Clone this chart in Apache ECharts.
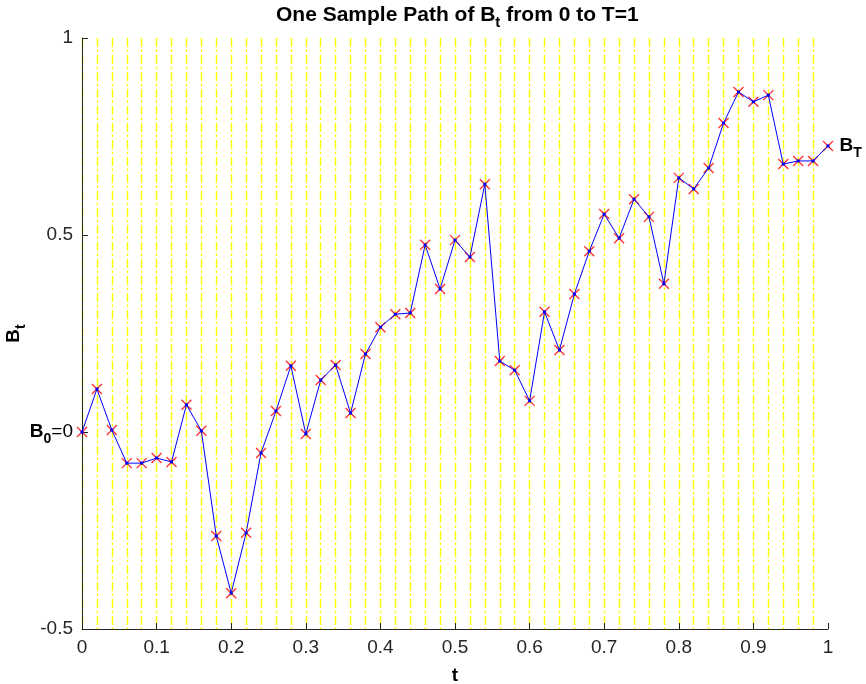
<!DOCTYPE html>
<html>
<head>
<meta charset="utf-8">
<title>One Sample Path of Bt</title>
<script src="https://cdn.jsdelivr.net/npm/echarts@6/dist/echarts.min.js"></script>
<style>
	html, body { margin: 0; padding: 0; background: #fff; }
	#chart { width: 866px; height: 684px; }
</style>
</head>
<body>
<div id="chart"></div>
<script>
// sample times t = 0, 0.02, ..., 1
const times = [0, 0.02, 0.04, 0.06, 0.08, 0.1, 0.12, 0.14, 0.16, 0.18,
	0.2, 0.22, 0.24, 0.26, 0.28, 0.3, 0.32, 0.34, 0.36, 0.38,
	0.4, 0.42, 0.44, 0.46, 0.48, 0.5, 0.52, 0.54, 0.56, 0.58,
	0.6, 0.62, 0.64, 0.66, 0.68, 0.7, 0.72, 0.74, 0.76, 0.78,
	0.8, 0.82, 0.84, 0.86, 0.88, 0.9, 0.92, 0.94, 0.96, 0.98, 1];
// B_t
const path = [0, 0.109, 0.005, -0.079, -0.079, -0.066, -0.076, 0.069, 0.003, -0.264,
	-0.409, -0.256, -0.053, 0.053, 0.168, -0.005, 0.132, 0.170, 0.048, 0.198,
	0.266, 0.299, 0.302, 0.475, 0.363, 0.487, 0.444, 0.629, 0.180, 0.157,
	0.079, 0.305, 0.208, 0.350, 0.459, 0.553, 0.492, 0.591, 0.546, 0.376,
	0.645, 0.617, 0.670, 0.784, 0.863, 0.838, 0.855, 0.680, 0.688, 0.688, 0.726];
const xTicks = [0, 0.1, 0.2, 0.3, 0.4, 0.5, 0.6, 0.7, 0.8, 0.9, 1];
const yTicks = [-0.5, 0, 0.5, 1];

const font = 'Liberation Sans, Arial, Helvetica, sans-serif';
const ink = '#262626';

// B with a subscript, used for several labels
const subRich = {
	b: { fontFamily: font, fontWeight: 'bold', fontSize: 19, color: '#000' },
	s: { fontFamily: font, fontWeight: 'bold', fontSize: 14, color: '#000', padding: [14, 0, 0, 0] },
	n: { fontFamily: font, fontSize: 19, color: '#000' }
};

let chart = echarts.init(document.getElementById('chart'));

let points = times.map((t, i) => [t, path[i]]);
let lineData = points.map((p, i) => {
	if (i !== points.length - 1) return p;
	return {
		value: p,
		label: {
			show: true,
			position: 'right',
			distance: 10,
			formatter: '{b|B}{s|T}',
			rich: subRich
		}
	};
});

chart.setOption({
	animation: false,
	backgroundColor: '#fff',
	title: {
		text: '{a|One Sample Path of B}{s|t}{a| from 0 to T=1}',
		left: 276,
		top: 0,
		padding: 0,
		textStyle: {
			rich: {
				a: { fontFamily: font, fontWeight: 'bold', fontSize: 21, color: '#000' },
				s: { fontFamily: font, fontWeight: 'bold', fontSize: 15, color: '#000', padding: [15, 0, 0, 0] }
			}
		}
	},
	grid: { left: 82, right: 38, top: 38, bottom: 55, outerBoundsMode: 'none', containLabel: false },
	xAxis: [
		{
			type: 'value',
			min: 0,
			max: 1,
			interval: 0.1,
			name: 't',
			nameLocation: 'middle',
			nameGap: 37,
			nameTextStyle: { fontFamily: font, fontWeight: 'bold', fontSize: 19, color: '#000' },
			axisLine: { show: true, onZero: false, lineStyle: { color: ink, width: 1 } },
			axisTick: { show: true, inside: true, length: 6, lineStyle: { color: ink } },
			axisLabel: {
				fontFamily: font, fontSize: 19, color: ink, margin: 9,
				formatter: v => xTicks.includes(+v.toFixed(2)) ? String(+v.toFixed(2)) : ''
			},
			splitLine: { show: false }
		},
		{
			// the dash-dot grid at every time step
			type: 'value',
			position: 'top',
			min: 0,
			max: 1,
			interval: 0.02,
			axisLine: { show: false },
			axisTick: { show: false },
			axisLabel: { show: false },
			splitLine: {
				show: true,
				showMinLine: true,
				showMaxLine: false,
				lineStyle: { color: '#ffff00', width: 1.4, type: [9, 2.5, 2.5, 3] }
			}
		}
	],
	yAxis: {
		type: 'value',
		min: -0.5,
		max: 1,
		interval: 0.5,
		name: '{b|B}{s|t}',
		nameLocation: 'middle',
		nameGap: 54,
		nameMoveOverlap: false,
		nameTextStyle: { rich: subRich },
		axisLine: { show: true, onZero: false, lineStyle: { color: ink, width: 1 } },
		axisTick: { show: true, inside: true, length: 6, lineStyle: { color: ink } },
		axisLabel: {
			fontFamily: font, fontSize: 19, color: ink, margin: 9,
			formatter: v => {
				if (!yTicks.includes(v)) return '';
				return v === 0 ? '{b|B}{s|0}{n|=0}' : String(v);
			},
			rich: subRich
		},
		splitLine: { show: false }
	},
	series: [
		{
			name: 'cross',
			type: 'scatter',
			data: points,
			symbol: 'path://M0,0L10,10M10,0L0,10',
			symbolSize: 10,
			itemStyle: { color: 'none', borderColor: '#ff0000', borderWidth: 1.4 },
			z: 2
		},
		{
			name: 'path',
			type: 'line',
			data: lineData,
			showSymbol: true,
			symbol: 'rect',
			symbolSize: 3,
			itemStyle: { color: '#0000ff' },
			lineStyle: { color: '#0000ff', width: 1 },
			z: 3
		}
	]
});
</script>
</body>
</html>
